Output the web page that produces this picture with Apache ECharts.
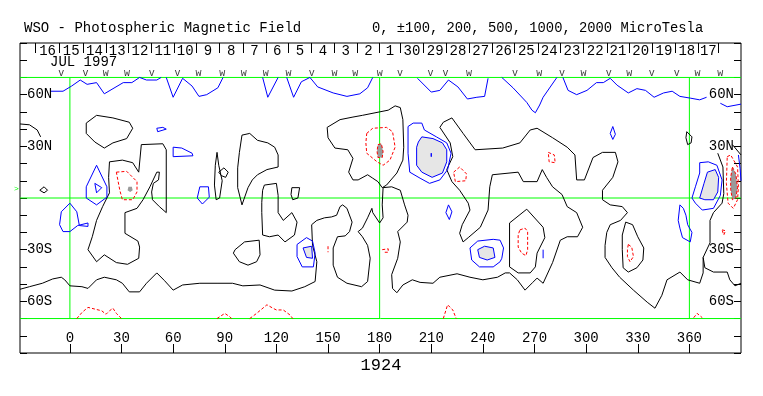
<!DOCTYPE html>
<html><head><meta charset="utf-8">
<script src="https://cdn.jsdelivr.net/npm/echarts@6/dist/echarts.min.js"></script>
<style>html,body{margin:0;padding:0;background:#fff}#c{width:763px;height:396px}</style>
</head><body><div id="c"></div>
<script>
// ---------- axes / labels ----------
const lonTicks = [0,30,60,90,120,150,180,210,240,270,300,330,360];
const latTickValues = [60,30,-30,-60];
const latTickLabels = ['60N','30N','30S','60S'];
const dayLabels = ['16','15','14','13','12','11','10','9','8','7','6','5','4','3','2','1','30','29','28','27','26','25','24','23','22','21','20','19','18','17'];
const dayLabelLon = [-13,0.75,14.25,27.5,40.75,54,67,80.25,93.75,107.25,120.5,133.75,147,160.25,173.5,186,198.75,212.25,225.5,238.75,252,265.25,278.5,291.75,305.25,318.5,331.75,345.25,358.5,371];
const dayTickLon = [-20,-6,7.5,21,34,47.5,60.5,73.5,87,100.5,114,127,140.5,153.5,167,180,192,205.5,219,232,245.5,258.5,272,285,298.5,312,325,338.5,352,365,377];
const obsLon = [-5,9,20.8,33.2,47.5,62.6,74.7,88.6,101,113.8,127,140.5,153.8,165.8,180.1,191.8,209.6,218.3,232,258.6,272.8,286,298.4,313.1,325.1,338.1,352.7,364.7,377.9];
const obsMark = ['v','v','w','w','v','v','w','w','w','w','w','v','w','w','w','v','v','v','w','v','w','v','w','v','w','v','v','w','w'];
const greenLat = [70,0,-70];
const greenLon = [0,180,360];
const titleLeft = 'WSO - Photospheric Magnetic Field';
const titleRight = '0, \u00b1100, 200, 500, 1000, 2000 MicroTesla';
const dateText = 'JUL 1997';
const rotationText = '1924';

// ---------- blue (negative) contours ----------
const B1 = [[-11,62],[-4,62],[1,65],[6,68.5],[10,66],[15.5,67],[20,60.5],[31,67],[36,67],[40.5,70],[44.5,68.5],[50.5,68.5],[53,70]];
const B2 = [[56,70],[60,58.5],[65.5,69.5],[71,65],[75,59],[79.5,60],[86,64],[89,70]];
const B3 = [[112,70],[115,58.5],[121,70]];
const B4 = [[126,70],[130,58.5],[134.5,67.5],[139.5,70],[144,64.5],[153,61],[161,59],[168.5,60.5],[173,64],[176,70]];
const B6 = [[202,69.5],[210,61.5],[215,62.5],[220,68.5],[225.5,64.5],[231,57.5],[236.5,58.5],[241,59],[243,69.5]];
const B7 = [[251,70],[257.5,64],[265.5,55.5],[268.5,51],[270.5,49.5],[273,54],[275,58.5],[283,70]];
const B8a = [[286.5,70],[289.5,62.5],[294.5,60],[300.5,62.5],[306,67],[310,67],[314,69.5],[318,65.5],[324.5,61],[329.5,63.5],[334.5,62.5],[339.5,58.5],[345,61],[350,62],[354.5,59],[360.5,58],[366,57],[370,58.5]];
const B8b = [[378,55],[382,53],[390,54.5]];
const B9 = [[50.5,40.5],[54,41],[56,40],[55,39],[51,38.5],[50.5,40.5]];
const B10 = [[60,29.5],[65,29],[71,26],[71.5,24.5],[60,24],[60,29.5]];
const B11 = [[75.5,6.5],[80.5,6.5],[81,0.5],[77,-3.5],[74,0],[75.5,6.5]];
const B12 = [[15.5,19],[21.5,6.5],[21.5,0.5],[15.5,-4],[9.5,0],[9.5,6.5],[15.5,19]];
const B13 = [[14.5,8.5],[18.5,6],[15.5,3],[14.5,8.5]];
const B14 = [[0,-3],[-5,-8],[-6,-15.5],[-4,-19.5],[0,-19.5],[4.5,-16],[10.5,-14.5],[10.5,-16.5],[5.5,-16],[4,-8],[0,-3]];
const B15o = [[132,-27],[137.5,-23],[141,-25],[142.5,-32],[141.5,-40],[135,-40],[132,-34],[132,-27]];
const B15i = [[135.5,-29],[140.5,-28],[141,-35],[137.5,-34.5],[135.5,-29]];
const B16o = [[196.5,41.5],[199.5,43.5],[204.5,43.5],[206,39.5],[213,35.5],[219,32],[221.5,26],[219.5,16.5],[215,10.5],[209,8.5],[203.5,11.5],[197.5,15],[196.5,26],[196.5,41.5]];
const B16m = [[202.5,32.5],[204.5,35.5],[211,34.5],[216.5,32],[219,28],[219,21],[216.5,14.5],[210.5,12],[204.5,15],[201.5,19],[201.5,29.5],[202.5,32.5]];
const B16t = [[210,26],[211,25],[210,24],[209,25],[210,26]];
const B17 = [[220,-4],[222,-8],[220.5,-12.5],[218.5,-8.5],[220,-4]];
const B18 = [[315.5,41.5],[317,37],[315.5,34],[314,37.5],[315.5,41.5]];
const B20o = [[232.5,-29],[237,-25],[246,-24],[250,-24.5],[252,-29],[251,-35],[250,-37],[246,-40],[238,-40],[233.5,-36],[232.5,-29]];
const B20i = [[237,-30],[241,-28],[246,-29],[247,-34.5],[242.5,-36],[238,-34.5],[237,-30]];
const B21 = [[275,-30],[275,-35]];
const B22 = [[354.5,-4],[353.5,-13],[354.5,-17.5],[356,-23],[360.5,-25.5],[361.5,-20],[359,-15.5],[358,-10],[356.5,-6],[354.5,-4]];
const B23o = [[366,20.5],[371,21],[376,19],[379,10.5],[378,1.5],[374,-6],[367.5,-7],[363.5,-3],[361.5,0],[363.5,6.5],[366,14.5],[366,20.5]];
const B23i = [[370.5,15],[375,16.5],[377,12],[376.5,3.5],[374,-1],[369,-1],[366,0],[368.5,8.5],[370.5,15]];
const B24 = [[388.5,25],[389.5,17],[390,10]];

// ---------- red (positive) contours ----------
const R1 = [[27,15],[33,15.5],[39,9.5],[39,3.5],[36.5,-1],[30.5,-1],[29,4.5],[27,15]];
const R1d = [[34,6.5],[36,6.5],[36.5,4.5],[35,3.5],[33.5,4.5],[34,6.5]];
const R2 = [[172.5,37.5],[176,40.5],[184,41],[187.5,38.5],[189,29.5],[186,22],[182,19],[178.5,21],[172.5,26],[172,32],[172.5,37.5]];
const R2d = [[179,31],[181,31.5],[182,27],[181.5,23.5],[179,23.5],[178.5,27],[179,31]];
const R3 = [[223,15],[226.5,18],[230.5,14],[230,10],[224,9.5],[223,15]];
const R4 = [[278,26.5],[281.5,25],[282,20.5],[278.5,21],[278,26.5]];
const R5 = [[261.5,-18.5],[264.5,-17.5],[266,-19.5],[266,-30],[265,-33.5],[262.5,-32],[260.5,-28.5],[260.5,-21.5],[261.5,-18.5]];
const R6 = [[324.5,-27],[326.5,-28.5],[327.5,-34],[325.5,-37],[324,-34],[324,-30],[324.5,-27]];
const R7 = [[379,-18.5],[381,-19],[380,-21.5],[379,-18.5]];
const R8 = [[382,24],[384,25],[388,18],[388.5,6.5],[388,-1],[385.5,-6],[382.5,-3],[381.5,8.5],[382,24]];
const R8d = [[385,18],[387,14],[388,6],[387,0],[385,-1],[384,5],[384,12],[385,18]];
const R9 = [[181.5,-30],[185,-29.5],[185,-31.5],[182,-31.5]];
const R10 = [[150,-28],[150,-31.5]];
const R11 = [[4,-70],[7,-66.5],[10.5,-63.5],[14.5,-64.5],[18.5,-65.5],[21,-67.5],[23,-65.5],[25,-64],[27,-67],[30,-70]];
const R12 = [[85.5,-70],[90,-67],[93,-69],[94,-70]];
const R13 = [[104.5,-70],[108.5,-67],[114.5,-62],[118,-64],[120,-65],[124,-65],[128,-68],[129.5,-70]];
const R14 = [[217,-70],[219.5,-62],[222.5,-65],[224.5,-70]];
const R15 = [[362.5,-69.5],[364.5,-67],[367.5,-69.5]];

// ---------- black (zero) contours ----------
const K1 = [[-29,43],[-23.5,42.5],[-19,39.5],[-17,35.5]];
const K2 = [[-17.5,4.5],[-15,6.5],[-13,4.5],[-15,3],[-17.5,4.5]];
const K3 = [[15.5,48],[9.5,43.5],[9.5,37.5],[14.5,32.5],[20,29],[25,32],[33,34.5],[36.5,40.5],[34.5,44],[25,46.5],[15.5,48]];
const K4 = [[23,21],[30.5,22],[36.5,20.5],[40,15],[41.5,31],[54,31.5],[56,28],[56,-8.5],[52,-5],[48,-1],[47.5,3.5],[48.5,8.5],[51.5,10.5],[52,15],[50.5,15],[46.5,6.5],[42.5,-1],[39,-6],[32,-8.5],[32,-20.5],[39.5,-25],[40.5,-28.5],[40,-35],[33.5,-38.5],[27,-37.5],[20,-33],[15.5,-37],[10.5,-30],[13,-22.5],[15.5,-13],[19,-5],[23,3],[22.5,12],[23,21]];
const K5 = [[85.5,26.5],[86.5,19],[88.5,10],[87,0],[85,-1],[84,7.5],[84.5,19],[85.5,26.5]];
const K6 = [[86.5,15],[89.5,17.5],[92,15],[90.5,12],[88,13],[86.5,15]];
const K7 = [[100,36.5],[104.5,37.5],[109,33.5],[115,32],[119,29.5],[121,25],[121,18],[114.5,16.5],[109,13.5],[106,10.5],[103.5,6],[100,-4],[97.5,6],[97.5,17.5],[98.5,26.5],[100,36.5]];
const K8 = [[149.5,41],[157,45.5],[164.5,47],[170,48],[180,50],[185,51],[189,53.5],[192,52.5],[193.5,45.5],[194,29.5],[193.5,22],[190,14.5],[184,7.5],[181.5,6],[179,9.5],[176,11.5],[173,13.5],[167.5,10.5],[164.5,10.5],[162,15],[164.5,23],[161.5,28],[154,29],[150,35],[149.5,41]];
const K9 = [[113,7.5],[120,8.5],[121,1.5],[121,-8.5],[124,-13],[129,-8.5],[132,-14],[130.5,-21.5],[125,-25.5],[121,-21.5],[116,-22.5],[112,-21.5],[111.5,-8.5],[111.5,-2.5],[112,4.5],[113,7.5]];
const K10 = [[129,6],[133.5,6],[132.5,0],[129.5,-1],[128.5,2],[129,6]];
const K11 = [[96,-30],[101.5,-25.5],[110,-24.5],[110.5,-33],[108.5,-37],[103.5,-39],[98.5,-37],[95,-32],[96,-30]];
const K12 = [[255.5,-14.5],[265.5,-6.5],[275,-17],[276,-23],[271.5,-32],[270.5,-40],[267.5,-43.5],[260.5,-43.5],[255.5,-40],[255.5,-14.5]];
const K13 = [[323,-14],[327,-15.5],[330,-22.5],[333.5,-29],[333,-36],[329.5,-40.5],[324.5,-43],[321.5,-40.5],[321,-30],[321,-21.5],[323,-14]];
const K14 = [[358.5,38.5],[361.5,35.5],[361,32],[359,31],[358,35],[358.5,38.5]];
const K15 = [[385,31],[390,25]];
const L1 = [[-29,-53],[-23.5,-51.5],[-16,-49.5],[-10,-47],[-5,-46],[-3,-47.5],[0,-51],[7,-51.5],[10.5,-52.5],[15.5,-47.5],[20,-46],[27,-47.5],[30.5,-49.5],[34.5,-54.5],[40.5,-54.5],[44.5,-49.5],[50.5,-43.5],[55,-48],[60,-53.5],[65.5,-50.5],[75.5,-49.5],[85.5,-49.5],[94.5,-49.5],[100.5,-51],[110.5,-50.5],[119,-53.5],[129,-54],[136.5,-51.5],[142.5,-48.5],[143.5,-37],[141,-27.5],[140.5,-15.5],[143.5,-13],[148,-11.5],[152,-11],[155,-10],[157,-5],[158.5,-4],[161,-6],[164,-14],[162.5,-19.5],[160,-22],[155.5,-22.5],[153,-29],[153,-39],[155.5,-46],[161,-49.5],[169.5,-51.5],[173,-48.5],[174.5,-35],[173,-27.5],[170,-22.5],[167.5,-19.5],[170,-17.5],[173,-11.5],[175.5,-6],[176,-8.5],[180,-14.5],[182,-11.5],[181.5,-4],[182,6],[187,6.5],[192,4.5],[194.5,-4],[196.5,-10],[196,-14],[190.5,-19.5],[192,-25.5],[190.5,-35],[187,-44.5],[187.5,-52.5],[190,-55],[193.5,-50.5],[199,-47.5],[203.5,-49],[211,-49.5],[215,-46],[225,-44],[232.5,-46],[240,-47.5],[248.5,-46],[253,-43.5],[255.5,-43.5],[260,-47.5],[264.5,-53.5],[269,-49],[271.5,-46.5],[275,-49.5],[280.5,-37.5],[285,-24.5],[289,-22.5],[295,-22.5],[298,-17],[294.5,-8.5],[289,-5],[286,2],[280.5,6.5],[277,12],[274.5,16.5],[271.5,9.5],[263.5,9.5],[260.5,15],[245.5,13.5],[244,6.5],[243,-7],[238.5,-17],[231.5,-23],[228.5,-25.5],[226.5,-20.5],[228,-15.5],[232.5,-7],[231.5,-3],[226.5,4.5],[222,9.5],[219,16.5],[222.5,24],[221,32],[215,41],[217,44],[222,46.5],[228.5,37.5],[235.5,28],[251.5,29],[261.5,32],[267.5,39.5],[271.5,40.5],[280.5,35],[289,29.5],[293.5,25],[294.5,10.5],[299,10.5],[304,23.5],[309.5,26.5],[317,26.5],[318.5,21],[315.5,12],[309.5,4.5],[309.5,-1],[314,-4],[321,-5],[324,-8.5],[320,-13],[314,-15.5],[312,-20],[311,-27.5],[311,-34.5],[315,-40.5],[319.5,-46],[327.5,-53.5],[335.5,-60.5],[340,-64],[344,-56.5],[347,-47.5],[354.5,-43],[359,-47.5],[366,-49.5],[368,-43.5],[368,-34.5],[372,-26],[372,-13],[374,-8.5],[379,-3],[380,2.5],[379.5,18],[376.5,26]];
const L2 = [[368,-34.5],[369,-40.5],[374,-43],[382,-43],[383.5,-47.5],[386.5,-51],[390,-49.5]];

const blueLines = [B1,B2,B3,B4,B6,B7,B8a,B8b,B9,B10,B11,B12,B13,B14,B15o,B15i,B16o,B16m,B16t,B17,B18,B20o,B20i,B21,B22,B23o,B23i,B24];
const redLines = [R1,R2,R2d,R3,R4,R5,R6,R7,R8,R8d,R9,R10,R11,R12,R13,R14,R15];
const blackLines = [K1,K2,K3,K4,K5,K6,K7,K8,K9,K10,K11,K12,K13,K14,K15,L1,L2];
const lightFills = [B15i,B16m,B20i,B23i];
const darkFills = [R1d,R2d,R8d];

// ---------- chart ----------
const LON_MIN = -29, LON_MAX = 390;
const MONO = '"Liberation Mono", "DejaVu Sans Mono", monospace';
const chart = echarts.init(document.getElementById('c'), null, {renderer:'canvas', width:763, height:396});

function lineSeries(pts, color, dashed, z) {
  return {type:'line', data:pts, symbol:'none', showSymbol:false, silent:true, animation:false,
    smooth:false, z:z, lineStyle:{color:color, width:1, type: dashed ? [3,2] : 'solid'}};
}
function polySeries(pts, fill, z) {
  return {type:'custom', silent:true, animation:false, z:z, data:[[pts[0][0], pts[0][1]]],
    renderItem: function (params, api) {
      return {type:'polygon', shape:{points: pts.map(function (q) { return api.coord(q); })}, style:{fill:fill, stroke:null}};
    }};
}

const series = [];
greenLat.forEach(function (lat) { series.push(lineSeries([[LON_MIN, lat],[LON_MAX, lat]], '#00ff00', false, 1)); });
greenLon.forEach(function (lon) { series.push(lineSeries([[lon, -70],[lon, 70]], '#00ff00', false, 1)); });
lightFills.forEach(function (p) { series.push(polySeries(p, '#e6e6e6', 2)); });
darkFills.forEach(function (p) { series.push(polySeries(p, '#9a9a9a', 2)); });
blackLines.forEach(function (p) { series.push(lineSeries(p, '#000000', false, 3)); });
blueLines.forEach(function (p) { series.push(lineSeries(p, '#0000ff', false, 3)); });
redLines.forEach(function (p) { series.push(lineSeries(p, '#ff0000', true, 3)); });
series.push({type:'scatter', silent:true, animation:false, z:4, symbolSize:1,
  itemStyle:{color:'rgba(0,0,0,0)'},
  data: obsLon.map(function (lon, i) { return [lon, 72.4, obsMark[i]]; }),
  label:{show:true, position:'inside', formatter:function (p) { return p.data[2]; },
    fontFamily:MONO, fontSize:10, color:'#000'}});

const tickStyle = {color:'#000', width:1};
const latAxisLabel = function (v) { const i = latTickValues.indexOf(v); return i >= 0 ? latTickLabels[i] : ''; };

chart.setOption({
  animation:false,
  backgroundColor:'#ffffff',
  grid:{left:20, top:43, right:22, bottom:43, show:true, borderColor:'#000', borderWidth:1, backgroundColor:'transparent', containLabel:false},
  xAxis:[
    {type:'value', position:'bottom', min:LON_MIN, max:LON_MAX, splitLine:{show:false}, axisLine:{show:false, onZero:false},
     axisTick:{show:true, inside:true, length:9, customValues:lonTicks, lineStyle:tickStyle},
     axisLabel:{show:true, inside:true, margin:8, interval:0, customValues:lonTicks, fontFamily:MONO, fontSize:14, color:'#000'}},
    {type:'value', position:'top', min:LON_MIN, max:LON_MAX, splitLine:{show:false}, axisLine:{show:false, onZero:false},
     axisTick:{show:true, inside:true, length:10, customValues:dayTickLon, lineStyle:tickStyle},
     axisLabel:{show:true, inside:true, margin:1, interval:0, customValues:dayLabelLon, fontFamily:MONO, fontSize:14, color:'#000',
       formatter:function (v) { const i = dayLabelLon.indexOf(v); return i >= 0 ? dayLabels[i] : ''; }}}
  ],
  yAxis:[
    {type:'value', position:'left', min:-90, max:90, interval:10, splitLine:{show:false}, axisLine:{show:false, onZero:false},
     axisTick:{show:true, inside:true, length:7, lineStyle:tickStyle},
     axisLabel:{show:true, inside:true, margin:7, customValues:latTickValues, fontFamily:MONO, fontSize:14, color:'#000', formatter:latAxisLabel}},
    {type:'value', position:'right', min:-90, max:90, interval:10, splitLine:{show:false}, axisLine:{show:false, onZero:false},
     axisTick:{show:true, inside:true, length:7, lineStyle:tickStyle},
     axisLabel:{show:true, inside:true, margin:7, customValues:latTickValues, fontFamily:MONO, fontSize:14, color:'#000', formatter:latAxisLabel}}
  ],
  graphic:[
    {type:'text', x:24, y:21, silent:true, style:{text:titleLeft, font:'14px ' + MONO, fill:'#000'}},
    {type:'text', x:372, y:21, silent:true, style:{text:titleRight, font:'13.8px ' + MONO, fill:'#000'}},
    {type:'text', x:50, y:55, silent:true, style:{text:dateText, font:'14px ' + MONO, fill:'#000'}},
    {type:'text', x:381, y:357, silent:true, style:{text:rotationText, font:'17px ' + MONO, fill:'#000', align:'center'}},
    {type:'text', x:14, y:185, silent:true, style:{text:'>', font:'8px ' + MONO, fill:'#00ff00'}}
  ],
  series: series
});
</script>
</body></html>
